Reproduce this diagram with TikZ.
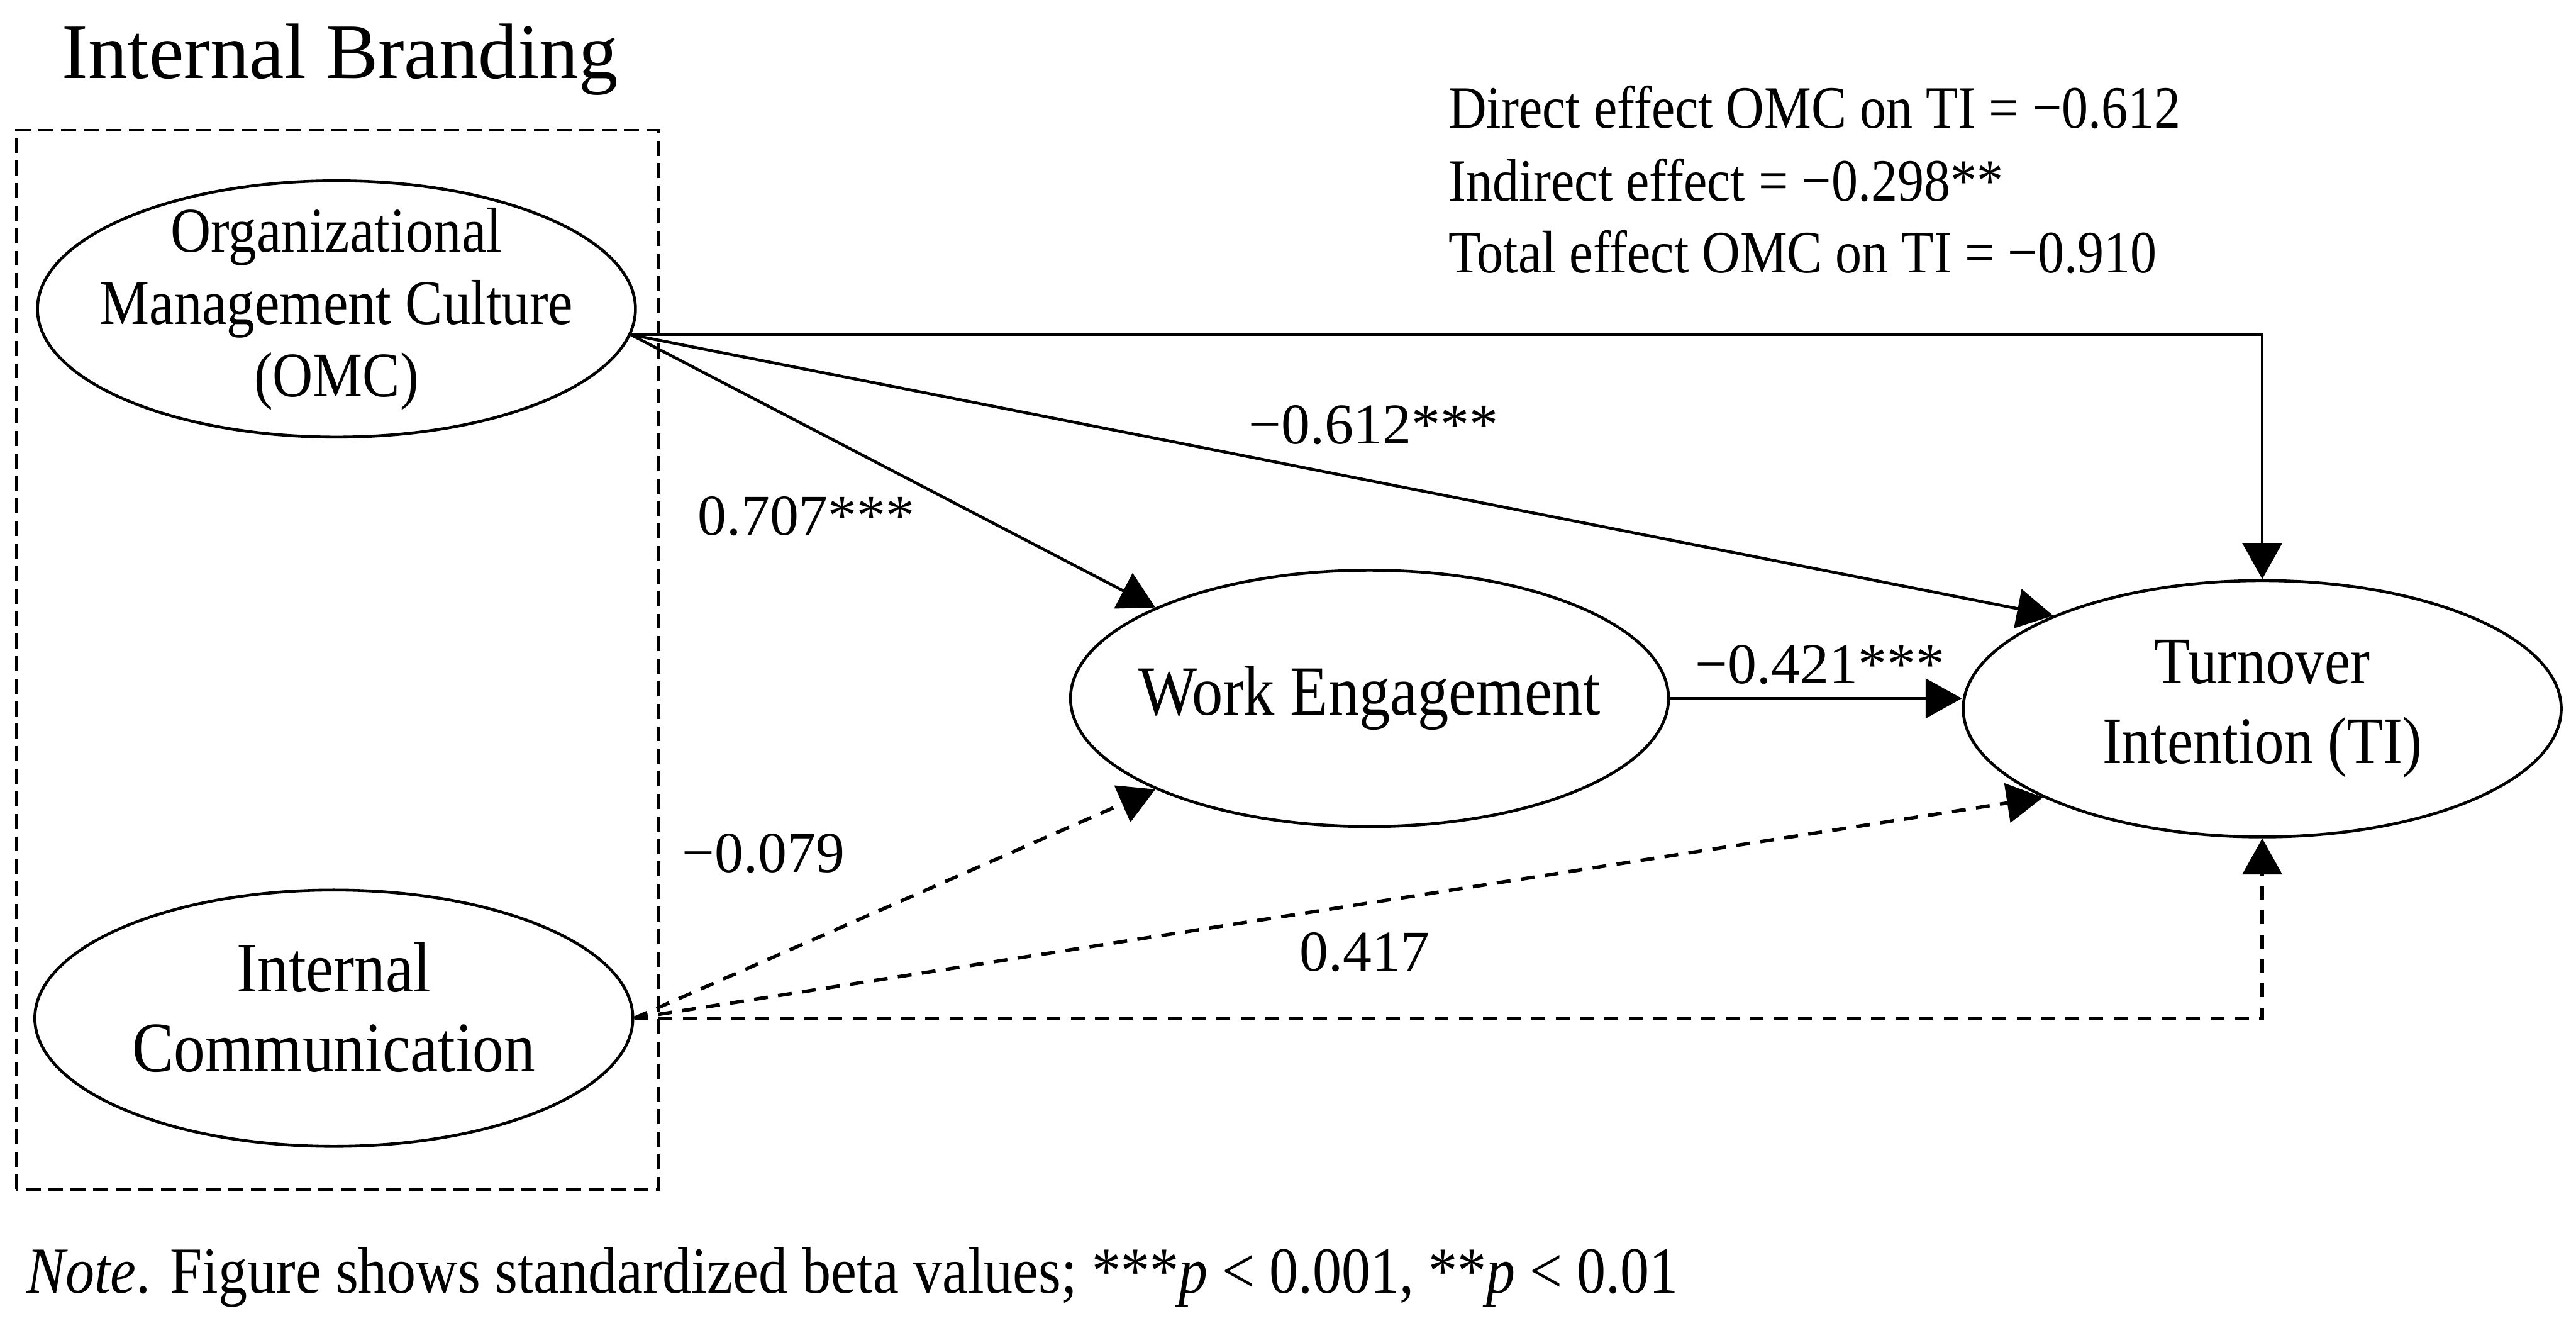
\documentclass[tikz,border=0pt]{standalone}
\usepackage{fontspec}
\setmainfont{Liberation Serif}
\newfontfamily\narrowserif[FakeStretch=0.88]{Liberation Serif}
\usetikzlibrary{arrows.meta,calc,shapes.geometric}

\tikzset{
  latent/.style={ellipse,draw,line width=0.5pt,minimum width=3.64cm,minimum height=1.56cm,inner sep=0pt},
  vartext/.style={align=center,inner sep=0pt},
  coef/.style={anchor=base,inner sep=0pt,font=\fontsize{10}{12}\selectfont},
  effect/.style={anchor=base west,inner sep=0pt,font=\narrowserif\fontsize{10.4}{12.5}\selectfont},
  sig/.style={line width=0.5pt,-{Triangle[length=2.2mm,width=2.4mm]}},
  nonsig/.style={line width=0.6pt,dash pattern=on 2.4pt off 1.8pt,-{Triangle[length=2.2mm,width=2.4mm]}},
  groupbox/.style={line width=0.45pt,dash pattern=on 2.6pt off 1.3pt},
}

\begin{document}
\begin{tikzpicture}
\useasboundingbox (0,0) rectangle (15.68,8.11);
% internal branding block
\node[anchor=base west,inner sep=0pt,font=\fontsize{13.6}{16}\selectfont] (brand) at (0.37,7.635) {Internal Branding};
\draw[groupbox] (0.10,0.873) rectangle (4.01,7.317);
% constructs
\node[latent] (omc) at (2.048,6.23) {};
\node[latent] (ic) at (2.032,1.914) {};
\node[latent] (we) at (8.336,3.86) {};
\node[latent] (ti) at (13.77,3.797) {};
\node[vartext,font=\narrowserif\fontsize{11}{12.5}\selectfont] (omctext) at (omc) {Organizational\\Management Culture\\(OMC)};
\node[vartext,font=\narrowserif\fontsize{12.3}{13.8}\selectfont] (ictext) at ($(ic)+(0,0.065)$) {Internal\\Communication};
\node[vartext,font=\narrowserif\fontsize{12.2}{14}\selectfont] (wetext) at (we) {Work Engagement};
\node[vartext,font=\narrowserif\fontsize{11.5}{13.9}\selectfont] (titext) at (ti) {Turnover\\Intention (TI)};
% paths
\draw[sig] (omc.-5) -| (ti.north);
\draw[sig] (omc.-5) -- (ti.156);
\draw[sig] (omc.-5) -- (we.157);
\draw[sig] (we.east) -- (we.east -| ti.west);
\draw[nonsig] (ic.east) -- (we.203);
\draw[nonsig] (ic.east) -- (ti.202);
\draw[nonsig] (ic.east) -| (ti.south);
% coefficients
\node[coef] (c707) at (4.907,4.853) {0.707***};
\node[coef] (c612) at (8.36,5.41) {−0.612***};
\node[coef] (c421) at (11.078,3.95) {−0.421***};
\node[coef] (c079) at (4.647,2.801) {−0.079};
\node[coef] (c417) at (8.306,2.201) {0.417};
% effects
\node[effect] (direct) at (8.81,7.33) {Direct effect OMC on TI = −0.612};
\node[effect] (indirect) at (8.81,6.886) {Indirect effect = −0.298**};
\node[effect] (total) at (8.81,6.45) {Total effect OMC on TI = −0.910};
% note
\node[anchor=base west,inner sep=0pt,font=\narrowserif\fontsize{11.4}{13}\selectfont] (note) at (0.157,0.24)
  {\textit{Note}. Figure shows standardized beta values; ***\textit{p} < 0.001, **\textit{p} < 0.01};
\end{tikzpicture}
\end{document}
